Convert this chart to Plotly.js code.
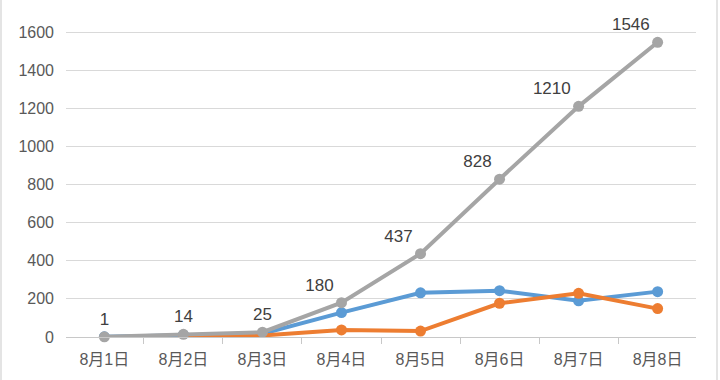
<!DOCTYPE html>
<html>
<head>
<meta charset="utf-8">
<script src="https://cdn.plot.ly/plotly-3.0.1.min.js"></script>
<style>
  html, body { margin: 0; padding: 0; background: #fff; }
  #wrap { position: relative; width: 720px; height: 380px; overflow: hidden; }
  #chart { width: 720px; height: 380px; }
  .edge { position: absolute; top: 0; width: 2px; height: 380px; background: #e4e4e4; }
</style>
</head>
<body>
<div id="wrap">
  <div id="chart"></div>
  <div class="edge" style="left:0"></div>
  <div class="edge" style="left:716px"></div>
</div>
<script>
const categories = ["8月1日", "8月2日", "8月3日", "8月4日", "8月5日", "8月6日", "8月7日", "8月8日"];
const blueValues = [1, 11, 17, 128, 232, 243, 190, 238];
const orangeValues = [null, 3, 8, 37, 31, 177, 229, 149];
const greyValues = [1, 14, 25, 180, 437, 828, 1210, 1546];
const greyLabels = greyValues.map(String);

const FONT = "'Liberation Sans', 'Noto Sans CJK SC', sans-serif";

const traces = [
  {
    x: categories, y: blueValues, type: "scatter", mode: "lines+markers",
    line: { color: "#5B9BD5", width: 4 },
    marker: { color: "#5B9BD5", size: 11 },
    hoverinfo: "none", showlegend: false
  },
  {
    x: categories, y: orangeValues, type: "scatter", mode: "lines+markers",
    line: { color: "#ED7D31", width: 4 },
    marker: { color: "#ED7D31", size: 11 },
    hoverinfo: "none", showlegend: false
  },
  {
    x: categories, y: greyValues, type: "scatter", mode: "lines+markers+text",
    text: greyLabels,
    textposition: ["top center", "top center", "top center", "top left", "top left", "top left", "top left", "top left"],
    textfont: { family: FONT, size: 17, color: "#404040" },
    line: { color: "#A5A5A5", width: 4 },
    marker: { color: "#A5A5A5", size: 11 },
    cliponaxis: false,
    hoverinfo: "none", showlegend: false
  }
];

const layout = {
  width: 720, height: 380,
  margin: { l: 66, r: 24, t: 0, b: 43 },
  paper_bgcolor: "#ffffff", plot_bgcolor: "#ffffff",
  font: { family: FONT, size: 16, color: "#595959" },
  xaxis: {
    type: "category",
    tickson: "boundaries",
    ticks: "outside", ticklen: 6, tickcolor: "#c8c8c8", tickwidth: 1,
    showline: true, linecolor: "#c8c8c8", linewidth: 1,
    showgrid: false, zeroline: false,
    ticklabelstandoff: 8,
    tickfont: { family: FONT, size: 16, color: "#595959" },
    fixedrange: true
  },
  yaxis: {
    range: [0, 1768],
    tickvals: [0, 200, 400, 600, 800, 1000, 1200, 1400, 1600],
    showgrid: true, gridcolor: "#d9d9d9", gridwidth: 1,
    zeroline: false, showline: false, ticks: "",
    ticklabelstandoff: 11,
    tickfont: { family: FONT, size: 16, color: "#595959" },
    fixedrange: true
  }
};

Plotly.newPlot("chart", traces, layout, { displayModeBar: false, staticPlot: true });
</script>
</body>
</html>
